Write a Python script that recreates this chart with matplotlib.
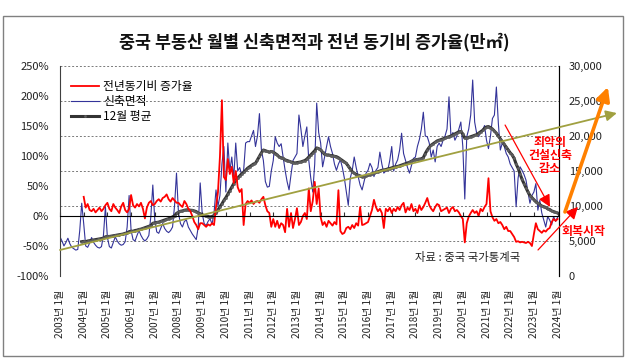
import matplotlib.pyplot as plt
import matplotlib.ticker as mticker
from matplotlib.lines import Line2D
from matplotlib.patches import Rectangle
import numpy as np

plt.rcParams['font.family'] = ['Noto Sans CJK KR', 'DejaVu Sans']
plt.rcParams['axes.unicode_minus'] = False

years = list(range(2003, 2025))
tick_labels = [f"{y}년 1월" for y in years]

# 신축면적 (만㎡), monthly from 2003-01
area_2003 = [5600, 5000, 4300, 4800, 5400, 4600, 4100, 3900, 3700, 3800, 6500, 10400]
area_2004 = [7500, 4300, 4100, 4700, 5500, 4800, 4400, 4100, 4000, 4200, 5800, 9900]
area_2005 = [5500, 4200, 4000, 4800, 5600, 5000, 4600, 4400, 4500, 4900, 7000, 11500]
area_2006 = [6500, 5200, 5000, 5800, 6500, 5800, 5300, 5000, 5300, 5800, 8500, 13000]
area_2007 = [8000, 6300, 6100, 6800, 7500, 6800, 6400, 6200, 6500, 7000, 10000, 14700]
area_2008 = [9000, 7500, 7000, 7800, 8000, 7000, 6500, 6000, 5600, 5200, 7000, 13300]
area_2009 = [9000, 7500, 7200, 7800, 8200, 7400, 9000, 12300, 10000, 11500, 16000, 18500]
area_2010 = [12000, 19000, 15000, 17000, 14000, 19000, 15000, 15500, 14500, 15100, 19000, 19200]
area_2011 = [19200, 20000, 20800, 18500, 20000, 23200, 18000, 16500, 13500, 12700, 12800, 15000]
area_2012 = [16500, 19900, 19000, 18500, 18900, 17000, 15100, 13500, 12300, 14500, 16500, 17000]
area_2013 = [17500, 23000, 21000, 18500, 20000, 21300, 16500, 14000, 12000, 16000, 24700, 20500]
area_2014 = [19000, 15600, 17000, 18500, 19900, 18500, 17500, 16000, 15100, 16000, 16600, 15500]
area_2015 = [14000, 12000, 10100, 14000, 15100, 17000, 15500, 14200, 13000, 12300, 13500, 14700]
area_2016 = [15100, 16100, 15500, 14200, 15100, 15500, 17700, 16000, 14700, 15000, 15100, 16500]
area_2017 = [18500, 15000, 16000, 16600, 18000, 20400, 17500, 16500, 15500, 14700, 15800, 16800]
area_2018 = [17000, 18500, 19500, 21000, 23400, 20000, 19900, 19000, 17000, 18000, 16300, 18500]
area_2019 = [19000, 18500, 19400, 20000, 21000, 25600, 19900, 20500, 19400, 20000, 21000, 22000]
area_2020 = [18500, 11000, 19900, 21000, 23000, 28000, 22000, 20400, 19900, 20500, 20800, 21500]
area_2021 = [19400, 18200, 20000, 22500, 23000, 27000, 21800, 18000, 19000, 18500, 17500, 17000]
area_2022 = [16000, 15500, 15000, 9900, 14000, 15600, 15100, 14500, 13700, 12000, 10400, 11500]
area_2023 = [12000, 13200, 9400, 10800, 9000, 8000, 7000, 8500, 8000, 7300, 8500, 7800]
area_2024 = [8400]

# 전년동기비 증가율 (%), monthly from 2004-01
yoy_2004 = [32, 14, 20, 10, 8, 12, 6, 10, 14, 8, 12, 18]
yoy_2005 = [22, 12, 8, 20, 14, 10, 5, 16, 22, 10, 6, 12]
yoy_2006 = [35, 18, 14, 20, 16, 22, 12, -4, 14, 22, 25, 18]
yoy_2007 = [20, 25, 28, 24, 30, 32, 36, 28, 24, 30, 26, 22]
yoy_2008 = [22, 18, 15, 25, 20, 12, 8, 0, -10, -15, -22, -12]
yoy_2009 = [-12, -15, -18, -14, -16, -12, -15, 15, 40, 99, 193, 65]
yoy_2010 = [60, 95, 70, 82, 55, 75, 48, 40, 45, -15, 20, 25]
yoy_2011 = [22, 26, 20, 24, 25, 22, 28, 32, 18, 8, 5, -18]
yoy_2012 = [-5, -18, -8, -20, -12, -15, -27, 12, -18, 5, -20, -5]
yoy_2013 = [13, -15, -10, 0, 5, -5, 46, 8, 25, 57, 20, 46]
yoy_2014 = [-2, -15, -10, -18, -8, -12, -16, -10, -14, 43, -25, -30]
yoy_2015 = [-28, -20, -18, -22, -15, -20, -12, -16, 15, -15, -14, -12]
yoy_2016 = [-10, 0, 10, 27, 15, 8, 12, 5, -20, 12, 8, 14]
yoy_2017 = [5, 12, 8, 15, 10, 18, 22, 6, 14, 10, 20, 8]
yoy_2018 = [12, 5, 18, 10, 15, 22, 30, 18, 12, 8, 15, 20]
yoy_2019 = [18, 8, 10, 12, 14, 5, 12, 15, 8, 10, 6, 0]
yoy_2020 = [-5, -44, -12, -1, 5, 10, 5, 8, 0, 12, 8, 15]
yoy_2021 = [20, 63, 8, -2, -8, -5, -12, -10, -15, -22, -18, -25]
yoy_2022 = [-25, -30, -35, -43, -42, -44, -43, -44, -45, -43, -45, -50]
yoy_2023 = [-30, -12, -22, -25, -28, -24, -26, -22, -20, -10, -5, -8]
yoy_2024 = [-5]

# 12월 평균 (만㎡), monthly from 2003-12
avg_2003 = [4900]
avg_2004 = [4950, 4900, 5000, 5050, 5100, 5150, 5200, 5250, 5300, 5350, 5400, 5600]
avg_2005 = [5650, 5650, 5700, 5750, 5800, 5850, 5900, 5950, 6000, 6100, 6150, 6330]
avg_2006 = [6400, 6400, 6500, 6550, 6650, 6700, 6800, 6900, 7000, 7100, 7200, 7530]
avg_2007 = [7600, 7650, 7700, 7800, 7900, 8000, 8100, 8200, 8300, 8450, 8600, 8950]
avg_2008 = [9100, 9250, 9300, 9400, 9450, 9450, 9400, 9380, 9300, 9200, 9000, 8900]
avg_2009 = [8750, 8650, 8550, 8500, 8450, 8500, 8650, 9000, 9430, 9900, 10300, 10800]
avg_2010 = [11200, 11700, 12200, 12700, 13200, 13700, 14000, 14300, 14600, 14800, 15100, 15400]
avg_2011 = [15600, 15800, 16000, 16100, 16600, 17100, 17600, 18000, 17900, 17800, 17700, 17800]
avg_2012 = [17700, 17500, 17300, 17000, 16900, 16800, 16600, 16500, 16400, 16300, 16200, 16150]
avg_2013 = [16200, 16250, 16300, 16400, 16500, 16700, 17000, 17300, 17600, 17900, 18300, 18200]
avg_2014 = [18000, 17700, 17400, 17300, 17300, 17200, 17200, 17100, 17050, 16900, 16700, 16500]
avg_2015 = [16300, 16100, 15700, 15300, 14900, 14700, 14500, 14400, 14300, 14200, 14200, 14300]
avg_2016 = [14400, 14500, 14600, 14700, 14800, 14900, 15000, 15100, 15150, 15200, 15300, 15350]
avg_2017 = [15450, 15550, 15600, 15650, 15750, 15850, 15950, 16050, 16150, 16250, 16400, 16550]
avg_2018 = [16600, 16650, 16700, 16750, 16900, 17500, 18000, 18400, 18700, 18900, 19100, 19300]
avg_2019 = [19400, 19500, 19600, 19700, 19800, 19900, 20000, 20150, 20300, 20450, 20600, 20650]
avg_2020 = [20300, 19700, 19700, 19800, 19900, 20000, 20100, 20200, 20400, 20600, 20800, 21100]
avg_2021 = [21300, 21350, 21200, 21000, 20700, 20400, 20000, 19600, 19200, 18800, 18400, 18000]
avg_2022 = [17600, 17300, 16800, 16000, 15400, 14600, 13800, 13200, 12600, 12000, 11500, 11200]
avg_2023 = [10900, 10600, 10400, 10200, 10000, 9900, 9800, 9600, 9500, 9300, 9200, 9100]
avg_2024 = [9000]

area = np.concatenate([globals()[f"area_{y}"] for y in years])
yoy = np.concatenate([globals()[f"yoy_{y}"] for y in years[1:]])
avg12 = np.concatenate([globals()[f"avg_{y}"] for y in years])

x_area = np.arange(len(area))
x_yoy = np.arange(12, 12 + len(yoy))
x_avg = np.arange(11, 11 + len(avg12))

RED = '#FF0000'
BLUE = '#333399'
DARK = '#333333'
OLIVE = '#A0A040'

fig = plt.figure(figsize=(6.27, 3.6), dpi=100)
fig.patches.append(Rectangle((0.005, 0.011), 0.989, 0.945, transform=fig.transFigure,
                             fill=False, edgecolor='#808080', linewidth=1))
ax = fig.add_axes([0.0957, 0.2333, 0.7958, 0.5833])
ax.spines['bottom'].set_position(('data', 0))  # category axis crosses at 0%
ax2 = ax.twinx()
ax.set_zorder(ax2.get_zorder() + 1)
ax.patch.set_visible(False)
ax2.patch.set_facecolor('#C0C0C0')

# right axis: area + 12 month average
ax2.plot(x_area, area, color=BLUE, lw=0.8)
ax2.plot(x_avg, avg12, color=DARK, lw=2.2)
ax2.plot(x_avg, avg12, ls='none', marker='s', ms=0.9, color='#606060')
ax2.set_ylim(0, 30000)
ax2.yaxis.set_major_locator(mticker.MultipleLocator(5000))
ax2.yaxis.set_major_formatter(mticker.FuncFormatter(lambda v, p: f"{v:,.0f}"))
ax2.grid(axis='y', linestyle=(0, (2, 2)), color='#7A7A7A', lw=0.7)
ax2.set_axisbelow(True)
ax2.tick_params(axis='y', length=0, pad=7, labelsize=8, labelcolor='#222222')

# left axis: yoy
ax.plot(x_yoy, yoy, color=RED, lw=1.3)
ax.set_ylim(-100, 250)
ax.yaxis.set_major_locator(mticker.MultipleLocator(50))
ax.yaxis.set_major_formatter(mticker.FuncFormatter(lambda v, p: f"{v:.0f}%"))
ax.tick_params(axis='y', length=0, pad=8, labelsize=8, labelcolor='#222222')

ax.set_xlim(0, 252.7)
ax.set_xticks(np.arange(0, 12 * len(years), 12))
ax.set_xticklabels(tick_labels, fontsize=7.2, color='#222222')
ax.tick_params(axis='x', direction='in', length=3, pad=53, color='#333333', labelrotation=90)

for a in (ax, ax2):
    a.spines['top'].set_visible(False)
ax2.spines['bottom'].set_visible(False)
ax.spines['left'].set_color('#404040')
ax2.spines['left'].set_visible(False)
ax2.spines['right'].set_color('#404040')

handles = [Line2D([], [], color=RED, lw=1.3),
           Line2D([], [], color=BLUE, lw=0.8),
           Line2D([], [], color=DARK, lw=2.2, marker='s', ms=0.9, mfc='#606060', mec='#606060')]
ax.legend(handles, ['전년동기비 증가율', '신축면적', '12월 평균'], loc='upper left',
          bbox_to_anchor=(0.022, 0.935), frameon=False, fontsize=8.5, handlelength=2.4,
          handletextpad=0.3, labelspacing=0.2, borderpad=0, borderaxespad=0)

# drawn shapes
ax.annotate('', xy=(1.116, 0.776), xytext=(0.0, 0.124), xycoords='axes fraction',
            arrowprops=dict(arrowstyle='-|>', color=OLIVE, lw=1.3, mutation_scale=16,
                            shrinkA=0, shrinkB=0), annotation_clip=False, zorder=5)
ax.annotate('', xy=(0.982, 0.329), xytext=(0.892, 0.719), xycoords='axes fraction',
            arrowprops=dict(arrowstyle='-|>', color=RED, lw=0.9, mutation_scale=18,
                            shrinkA=0, shrinkB=0), annotation_clip=False, zorder=5)
ax.annotate('', xy=(1.038, 0.329), xytext=(0.958, 0.124), xycoords='axes fraction',
            arrowprops=dict(arrowstyle='-|>', color=RED, lw=0.9, mutation_scale=18,
                            shrinkA=0, shrinkB=0), annotation_clip=False, zorder=5)
ax.annotate('', xy=(1.098, 0.9), xytext=(1.012, 0.305), xycoords='axes fraction',
            arrowprops=dict(arrowstyle='-|>', color='#FF8000', lw=2.6, mutation_scale=20,
                            shrinkA=0, shrinkB=0), annotation_clip=False, zorder=5)

ax.text(0.982, 0.576, '최악의\n건설신축\n감소', transform=ax.transAxes, ha='center', va='center',
        color=RED, fontsize=8.6, fontweight='bold', linespacing=1.0, zorder=6)
ax.text(1.05, 0.21, '회복시작', transform=ax.transAxes, ha='center', va='center',
        color=RED, fontsize=8.6, fontweight='bold', zorder=6)
ax.text(0.711, 0.086, '자료 : 중국 국가통계국', transform=ax.transAxes, ha='left', va='center',
        color='#222222', fontsize=8.2, zorder=6)

fig.text(0.502, 0.883, '중국 부동산 월별 신축면적과 전년 동기비 증가율(만㎡)', ha='center', va='center',
         fontsize=12.5, fontweight='bold', color='#111111')

fig.savefig('out.png', dpi=100)
